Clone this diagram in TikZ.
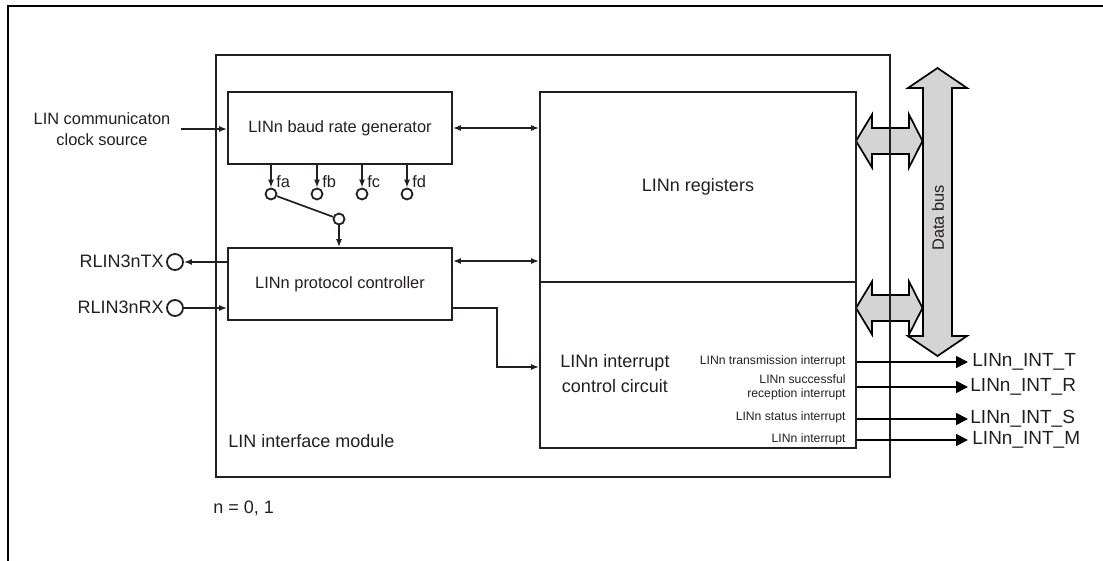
\documentclass[tikz,border=0pt]{standalone}
\usepackage{fontspec}
\setmainfont{Liberation Sans}
\usetikzlibrary{arrows.meta,calc}
\definecolor{ink}{HTML}{231F20}
\definecolor{busgray}{HTML}{D4D4D4}
\begin{document}
\begin{tikzpicture}[x=0.5pt,y=-0.5pt,
  every node/.style={text=ink},
  box/.style={draw=ink, line width=0.85pt, inner sep=0pt, font=\fontsize{8.2pt}{9.8pt}\selectfont},
  txtS/.style={inner sep=0pt, font=\fontsize{6.1pt}{7pt}\selectfont},
  txtM/.style={inner sep=0pt, font=\fontsize{8.2pt}{10.5pt}\selectfont},
  txtL/.style={inner sep=0pt, font=\fontsize{9pt}{12.5pt}\selectfont},
  txtXL/.style={inner sep=0pt, font=\fontsize{9.5pt}{11pt}\selectfont},
  pin/.style={circle, draw=ink, line width=0.9pt, minimum size=8pt, inner sep=0pt},
  tap/.style={circle, draw=ink, line width=0.9pt, minimum size=5.5pt, inner sep=0pt},
  arr/.style={draw=ink, line width=0.85pt, -{Latex[length=4pt,width=3pt]}},
  arrb/.style={draw=ink, line width=0.85pt, {Latex[length=4pt,width=3pt]}-{Latex[length=4pt,width=3pt]}},
  outarr/.style={draw=black, line width=0.85pt, -{Triangle[length=6pt,width=6pt]}},
  fat/.style={draw=black, line width=0.85pt, fill=busgray, line join=miter}
]
\useasboundingbox (0,0) rectangle (1103,561);
% outer frame
\draw[black, line width=1.3pt] (1103,6) -- (8,6) -- (8,561);

% data bus
\draw[fat] (937.5,68) -- (967,88) -- (952,88) -- (952,336) -- (967,336) -- (937.5,356)
  -- (908,336) -- (923,336) -- (923,88) -- (908,88) -- cycle;
\node[txtM, rotate=90] (bus) at (938,218) {Data bus};

% double arrows to bus
\draw[fat] (856,141) -- (872,114.5) -- (872,128) -- (909,128) -- (909,114.5) -- (922.5,141)
  -- (909,167.5) -- (909,154) -- (872,154) -- (872,167.5) -- cycle;
\draw[fat] (856,308) -- (872,281.5) -- (872,295) -- (909,295) -- (909,281.5) -- (922.5,308)
  -- (909,334.5) -- (909,321) -- (872,321) -- (872,334.5) -- cycle;

% module
\node[draw=ink, line width=0.95pt, minimum width=337pt, minimum height=211pt, inner sep=0pt] (module) at (553,266) {};
\node[txtL, anchor=west] (modlbl) at (228,441) {LIN interface module};
\node[txtL, anchor=west] (nlbl) at (213,508) {n = 0, 1};

% blocks
\node[box, minimum width=112pt, minimum height=36pt] (baud) at (340,128) {LINn baud rate generator};
\node[box, minimum width=112pt, minimum height=36pt] (proto) at (340,284) {LINn protocol controller};
\node[box, minimum width=158pt, minimum height=95pt, font=\fontsize{9pt}{11pt}\selectfont] (regs) at (698,187) {LINn registers};
\node[box, minimum width=158pt, minimum height=83pt] (intr) at (698,365) {};
\node[txtL, align=center] (intrlbl) at (615,373.5) {LINn interrupt\\control circuit};

% clock source
\node[txtM, align=center] (clklbl) at (102,129.5) {LIN communicaton\\clock source};
\coordinate (clk) at (181,129);
\draw[arr] (clk) -- (baud.west |- clk);

% taps
\node[tap] (ca) at (271,194) {};
\node[tap] (cb) at (317,194) {};
\node[tap] (cc) at (362,194) {};
\node[tap] (cd) at (407,194) {};
\node[tap] (sw) at (339,219) {};
\foreach \c/\t in {ca/fa,cb/fb,cc/fc,cd/fd}{
  \draw[arr] (\c |- baud.south) -- (\c.north);
  \node[txtM, anchor=west] (l\c) at ($(\c)+(5,-12)$) {\t};
}
\draw[draw=ink, line width=0.85pt] (ca) -- (sw);
\draw[arr] (sw.south) -- (sw |- proto.north);

% pins
\node[pin] (tx) at (175,262) {};
\node[pin] (rx) at (175,308) {};
\node[txtL, anchor=east] (txlbl) at (164,261) {RLIN3nTX};
\node[txtL, anchor=east] (rxlbl) at (164,307) {RLIN3nRX};
\draw[arr] (proto.west |- tx) -- (tx.east);
\draw[arr] (rx.east) -- (proto.west |- rx);

% register links
\coordinate (yb) at (0,128);
\coordinate (yp) at (0,261);
\draw[arrb] (baud.east |- yb) -- (regs.west |- yb);
\draw[arrb] (proto.east |- yp) -- (regs.west |- yp);
\coordinate (ya) at (0,308);
\coordinate (yc) at (0,367);
\draw[arr] (proto.east |- ya) -- (497,308) -- (497,367) -- (intr.west |- yc);

% interrupt outputs
\node[txtS, anchor=east] (iT) at (846,361) {LINn transmission interrupt};
\node[txtS, anchor=east, align=right] (iR) at (846,387) {LINn successful\\reception interrupt};
\node[txtS, anchor=east] (iS) at (846,417) {LINn status interrupt};
\node[txtS, anchor=east] (iM) at (846,439.5) {LINn interrupt};

\node[txtXL, anchor=west] (oT) at (972,362) {LINn\_INT\_T};
\node[txtXL, anchor=west] (oR) at (970,387) {LINn\_INT\_R};
\node[txtXL, anchor=west] (oS) at (970,419) {LINn\_INT\_S};
\node[txtXL, anchor=west] (oM) at (972,440) {LINn\_INT\_M};
\draw[outarr] (intr.east |- oT) -- (968,362);
\draw[outarr] (intr.east |- oR) -- (968,387);
\draw[outarr] (intr.east |- oS) -- (968,419);
\draw[outarr] (intr.east |- oM) -- (968,440);
\end{tikzpicture}
\end{document}
